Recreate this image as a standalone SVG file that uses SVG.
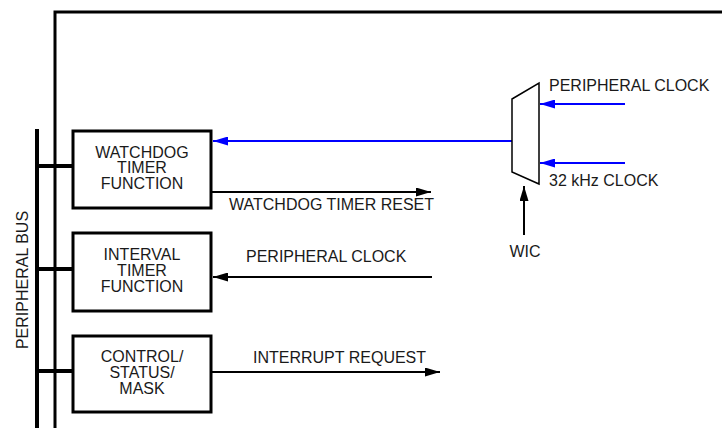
<svg xmlns="http://www.w3.org/2000/svg" width="722" height="428" viewBox="0 0 722 428">
<style>
  text { font-family: "Liberation Sans", Arial, sans-serif; font-size: 16px; fill: #1a1a1a; }
  .box { fill: #fff; stroke: #000; stroke-width: 3; }
  .frame { fill: none; stroke: #000; stroke-width: 3; }
  .bus { fill: none; stroke: #000; stroke-width: 4; }
  .stub { fill: none; stroke: #000; stroke-width: 4; }
  .conn { fill: none; stroke: #000; stroke-width: 2; }
  .blue { fill: none; stroke: #0000ff; stroke-width: 2; }
  .mux { fill: #fff; stroke: #000; stroke-width: 1.5; }
  .mid { text-anchor: middle; }
</style>
<defs>
  <marker id="ah" markerUnits="userSpaceOnUse" viewBox="0 0 15 9" refX="15" refY="4.5" markerWidth="15" markerHeight="9" orient="auto">
    <path d="M0,0 L15,4.5 L0,9 Z" fill="#000"/>
  </marker>
  <marker id="ahb" markerUnits="userSpaceOnUse" viewBox="0 0 15 9" refX="15" refY="4.5" markerWidth="15" markerHeight="9" orient="auto">
    <path d="M0,0 L15,4.5 L0,9 Z" fill="#0000ff"/>
  </marker>
</defs>
<rect width="722" height="428" fill="#fff"/>

<g id="frame">
  <path class="frame" d="M55,428 L55,12 L722,12"/>
</g>

<g id="peripheral-bus">
  <path class="bus" d="M37,129 L37,428"/>
  <text transform="translate(28,280) rotate(-90)" class="mid">PERIPHERAL BUS</text>
</g>

<g id="connectors">
  <path class="stub" d="M37,166 L73,166"/>
  <path class="stub" d="M37,269 L73,269"/>
  <path class="stub" d="M37,371 L73,371"/>
  <path class="blue" d="M512,141 L213,141" marker-end="url(#ahb)"/>
  <path class="blue" d="M625,104 L540,104" marker-end="url(#ahb)"/>
  <path class="blue" d="M625,163 L540,163" marker-end="url(#ahb)"/>
  <path class="conn" d="M212,192 L431,192" marker-end="url(#ah)"/>
  <path class="conn" d="M432,277 L213,277" marker-end="url(#ah)"/>
  <path class="conn" d="M212,372 L440,372" marker-end="url(#ah)"/>
  <path class="conn" d="M524,235 L524,186" marker-end="url(#ah)"/>
</g>

<g id="watchdog">
  <rect class="box" x="73" y="131" width="138" height="77"/>
  <text class="mid" x="142" y="157.5">WATCHDOG</text>
  <text class="mid" x="142" y="173">TIMER</text>
  <text class="mid" x="142" y="189">FUNCTION</text>
</g>

<g id="interval">
  <rect class="box" x="73" y="233" width="138" height="78"/>
  <text class="mid" x="142" y="260">INTERVAL</text>
  <text class="mid" x="142" y="276">TIMER</text>
  <text class="mid" x="142" y="292">FUNCTION</text>
</g>

<g id="control">
  <rect class="box" x="73" y="336" width="138" height="76"/>
  <text class="mid" x="142" y="362">CONTROL/</text>
  <text class="mid" x="142" y="378">STATUS/</text>
  <text class="mid" x="142" y="394">MASK</text>
</g>

<g id="mux">
  <path class="mux" d="M512,99 L539,83 L539,184 L512,172 Z"/>
</g>

<g id="labels">
  <text x="229" y="210">WATCHDOG TIMER RESET</text>
  <text x="246" y="262">PERIPHERAL CLOCK</text>
  <text x="253" y="363">INTERRUPT REQUEST</text>
  <text x="549" y="91">PERIPHERAL CLOCK</text>
  <text x="549" y="186">32 kHz CLOCK</text>
  <text class="mid" x="525" y="257">WIC</text>
</g>
</svg>
